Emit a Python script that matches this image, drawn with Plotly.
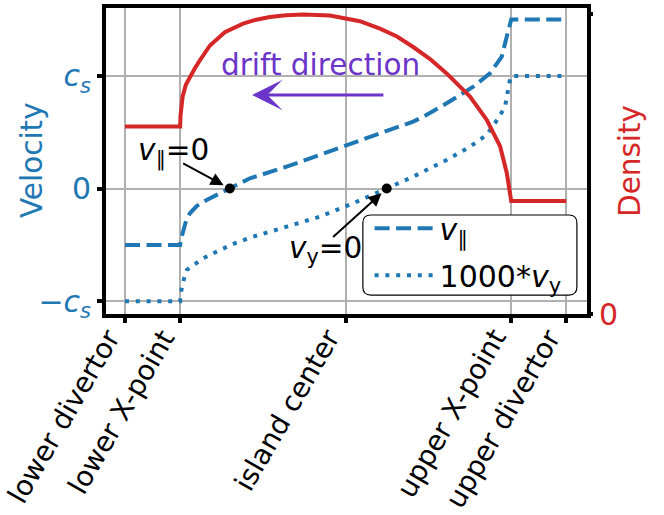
import plotly.graph_objects as go

# ---------------- data ----------------
x_tick_vals = [-1.333, -1.0, 0.0, 1.0, 1.333]
x_tick_text = ["lower divertor", "lower X-point", "island center",
               "upper X-point", "upper divertor"]

vel_tick_vals = [-1, 0, 1]
vel_tick_text = ["\u2212<i>c</i><sub><i>s</i></sub>", "0", "<i>c</i><sub><i>s</i></sub>"]
dens_tick_vals = [0, 1]
dens_tick_text = ["0", "<i>n</i><sub>max</sub>"]

vpar_x = [-1.333, -1.0, -0.997, -0.99, -0.981, -0.965, -0.941, -0.9, -0.84,
          -0.77, -0.70, -0.578, -0.357, -0.18, 0.0, 0.207, 0.408, 0.469, 0.61,
          0.771, 0.872, 0.943, 0.973, 0.99, 1.0, 1.333]
vpar_y = [-0.5, -0.5, -0.46, -0.42, -0.367, -0.29, -0.219, -0.155, -0.101,
          -0.05, 0.0, 0.091, 0.194, 0.29, 0.387, 0.491, 0.594, 0.638, 0.757,
          0.904, 1.023, 1.170, 1.348, 1.46, 1.5, 1.5]

vy_x = [-1.333, -1.0, -0.997, -0.99, -0.975, -0.96, -0.91, -0.86, -0.76,
        -0.66, -0.559, -0.357, -0.155, 0.046, 0.248, 0.408, 0.61, 0.751,
        0.852, 0.922, 0.963, 0.983, 0.993, 1.0, 1.333]
vy_y = [-1.0, -1.0, -0.93, -0.87, -0.79, -0.722, -0.665, -0.618, -0.545,
        -0.48, -0.427, -0.338, -0.249, -0.130, 0.0, 0.106, 0.254, 0.372,
        0.476, 0.624, 0.727, 0.904, 0.97, 1.0, 1.0]

dens_x = [-1.333, -1.0, -0.998, -0.994, -0.985, -0.965, -0.94, -0.91, -0.88,
          -0.82, -0.73, -0.62, -0.54, -0.458, -0.36, -0.256, -0.095, 0.086,
          0.207, 0.31, 0.408, 0.51, 0.61, 0.751, 0.852, 0.933, 0.973, 0.989,
          0.997, 1.0, 1.333]
dens_y = [0.625, 0.625, 0.66, 0.69, 0.725, 0.765, 0.791, 0.82, 0.846,
          0.895, 0.939, 0.968, 0.981, 0.99, 0.996, 0.998, 0.995, 0.976,
          0.951, 0.925, 0.890, 0.85, 0.802, 0.725, 0.647, 0.559, 0.471, 0.416,
          0.39, 0.377, 0.377]

zero_x = [-0.70, 0.248]
zero_y = [0.0, 0.0]

BLUE = "#1f77b4"
RED = "#d62728"
PURPLE = "#6c35c9"
FONT = "DejaVu Sans"
TICK_SIZE = 30
XTICK_SIZE = 27.8
LABEL_SIZE = 29.5

fig = go.Figure()

fig.add_trace(go.Scatter(
    x=vpar_x, y=vpar_y, mode="lines", name="<i>v</i><sub>\u2225</sub>",
    line=dict(color=BLUE, width=4, dash="15px,6.5px"),
    legendgroup="a"))
fig.add_trace(go.Scatter(
    x=vy_x, y=vy_y, mode="lines", name="1000*<i>v</i><sub>y</sub>",
    line=dict(color=BLUE, width=4, dash="4px,6.8px"),
    legendgroup="b"))
fig.add_trace(go.Scatter(
    x=zero_x, y=zero_y, mode="markers", showlegend=False,
    marker=dict(color="black", size=10)))
fig.add_trace(go.Scatter(
    x=dens_x, y=dens_y, mode="lines", yaxis="y2", showlegend=False,
    line=dict(color=RED, width=4)))

# rounded legend frame
x0, x1, y0, y1 = 0.534, 0.979, 0.062, 0.3235
rx, ry = 8 / 481, 8 / 306
path = (f"M{x0+rx},{y0} L{x1-rx},{y0} Q{x1},{y0} {x1},{y0+ry} "
        f"L{x1},{y1-ry} Q{x1},{y1} {x1-rx},{y1} L{x0+rx},{y1} "
        f"Q{x0},{y1} {x0},{y1-ry} L{x0},{y0+ry} Q{x0},{y0} {x0+rx},{y0} Z")
fig.add_shape(type="path", path=path, xref="paper", yref="paper",
              line=dict(color="black", width=1.2), fillcolor="white", layer="above")

annotations = [
    dict(x=-0.1538, y=0.503, xref="paper", yref="paper", text="Velocity",
         textangle=-90, showarrow=False, xanchor="center", yanchor="middle",
         font=dict(size=LABEL_SIZE, color=BLUE, family=FONT)),
    dict(x=-0.152, y=1.097, xref="x", yref="y", text="drift direction",
         showarrow=False, font=dict(size=LABEL_SIZE, color=PURPLE, family=FONT)),
    dict(x=-0.566, y=0.83, ax=0.237, ay=0.83, xref="x", yref="y",
         axref="x", ayref="y", text="", showarrow=True, arrowhead=3,
         arrowsize=1.7, arrowwidth=3, arrowcolor=PURPLE),
    dict(x=-1.040, y=0.325, xref="x", yref="y",
         text="<i>v</i><sub>\u2225</sub>=0", showarrow=False,
         font=dict(size=LABEL_SIZE, color="black", family=FONT)),
    dict(x=zero_x[0], y=zero_y[0], ax=-0.991, ay=0.23, xref="x", yref="y",
         axref="x", ayref="y", text="", showarrow=True, arrowhead=2,
         arrowsize=1.3, arrowwidth=2, arrowcolor="black", standoff=7),
    dict(x=-0.122, y=-0.545, xref="x", yref="y",
         text="<i>v</i><sub>y</sub>=0", showarrow=False,
         font=dict(size=LABEL_SIZE, color="black", family=FONT)),
    dict(x=zero_x[1], y=zero_y[1], ax=-0.085, ay=-0.441, xref="x", yref="y",
         axref="x", ayref="y", text="", showarrow=True, arrowhead=2,
         arrowsize=1.3, arrowwidth=2, arrowcolor="black", standoff=7),
]

# rotated category labels under the x axis (top-right corner at each tick)
for tv, tt in zip(x_tick_vals, x_tick_text):
    annotations.append(dict(
        x=tv, y=-0.026, xref="x", yref="paper", text=tt, textangle=-60,
        showarrow=False, xanchor="right", yanchor="top", xshift=3,
        borderpad=0, font=dict(size=XTICK_SIZE, color="black", family=FONT)))

fig.update_layout(
    width=664, height=515,
    margin=dict(l=106, r=77, t=8, b=201, autoexpand=False),
    paper_bgcolor="white", plot_bgcolor="white",
    font=dict(family=FONT, size=TICK_SIZE, color="black"),
    showlegend=True,
    legend=dict(x=0.548, y=0.365, xanchor="left", yanchor="top",
                bgcolor="rgba(0,0,0,0)", borderwidth=0,
                font=dict(size=TICK_SIZE, family=FONT), itemwidth=60,
                tracegroupgap=5),
    annotations=annotations,
    xaxis=dict(range=[-1.448, 1.458], tickmode="array", tickvals=x_tick_vals,
               ticktext=x_tick_text, showticklabels=False, showgrid=True,
               gridcolor="#b0b0b0", gridwidth=1.5, zeroline=False,
               showline=True, linecolor="black", linewidth=4, mirror=True,
               ticks="outside", ticklen=5, tickwidth=4, tickcolor="black",
               automargin=False),
    yaxis=dict(range=[-1.113, 1.6025], tickmode="array", tickvals=vel_tick_vals,
               ticktext=vel_tick_text, showgrid=True, gridcolor="#b0b0b0",
               gridwidth=1.5, zeroline=False, showline=True, linecolor="black",
               linewidth=4, mirror=True, ticks="outside", ticklen=5,
               tickwidth=4, tickcolor="black", automargin=False,
               tickfont=dict(size=TICK_SIZE, color=BLUE)),
    yaxis2=dict(range=[0, 1.02], overlaying="y", side="right",
                tickmode="array", tickvals=dens_tick_vals,
                ticktext=dens_tick_text, showgrid=False, zeroline=False,
                showline=False, ticks="outside", ticklen=5, tickwidth=4,
                tickcolor="black", automargin=False,
                tickfont=dict(size=TICK_SIZE, color=RED),
                title=dict(text="Density", font=dict(size=LABEL_SIZE, color=RED),
                           standoff=2)),
)

fig.write_html("out.html", config={"displayModeBar": False},
               post_script="document.body.style.margin='0';")
